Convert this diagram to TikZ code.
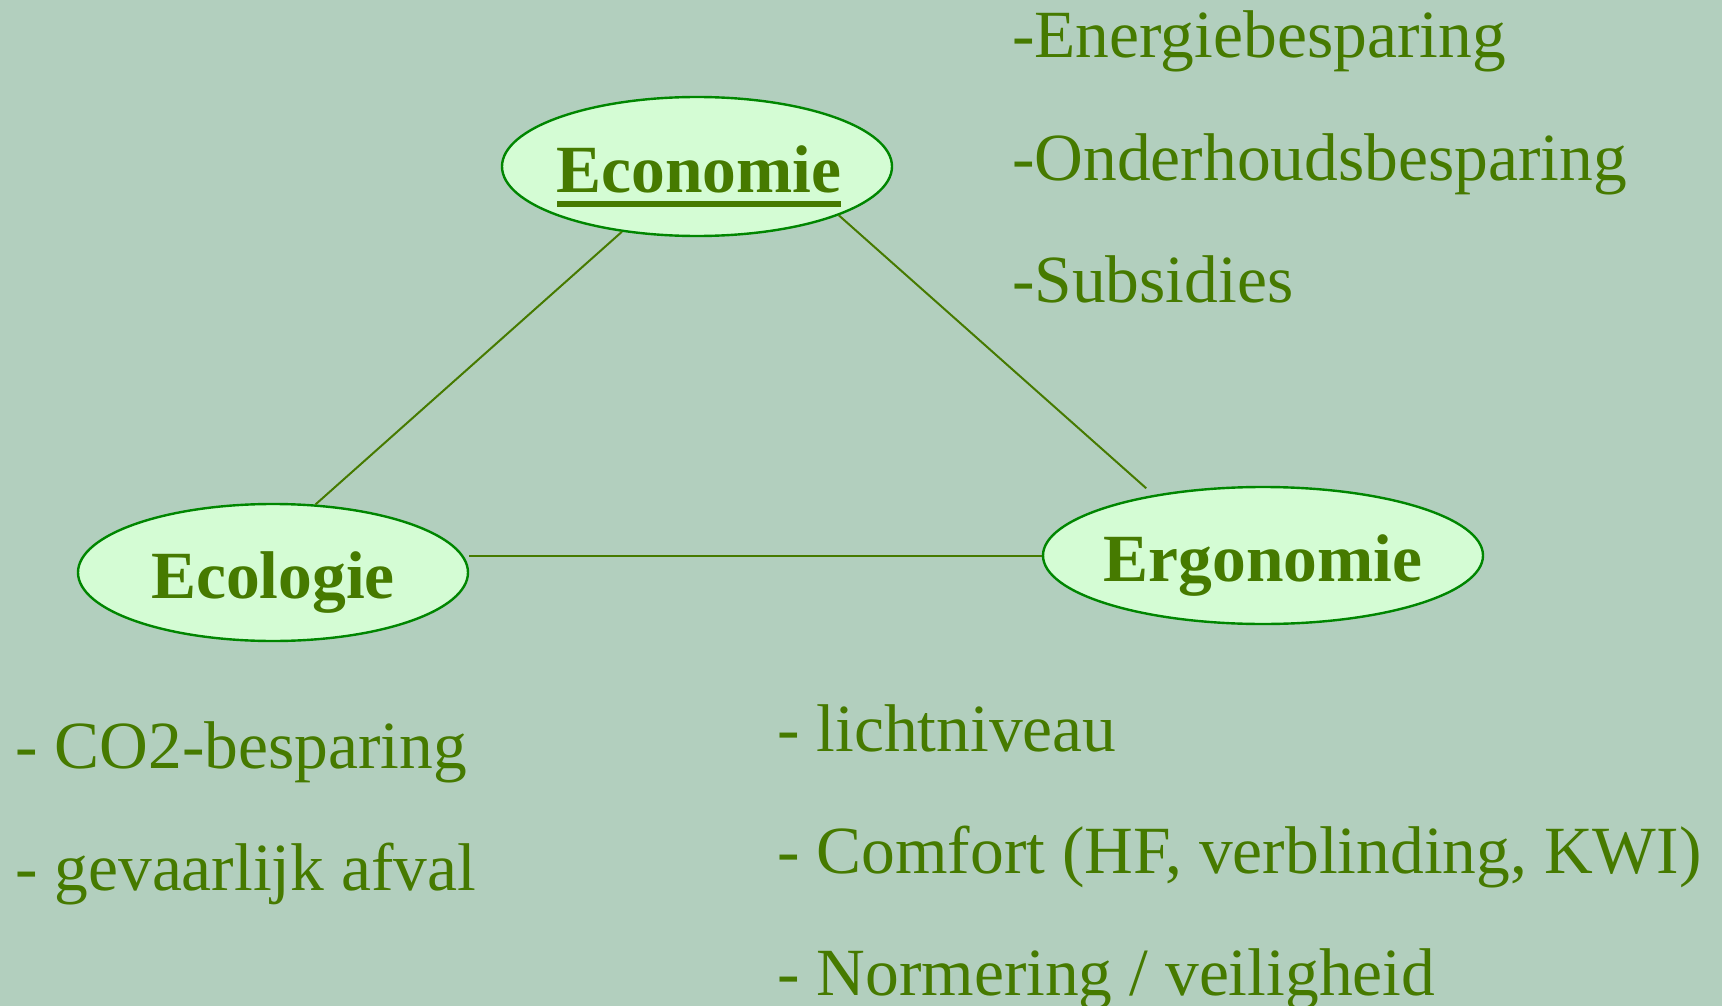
\documentclass[tikz,border=0pt]{standalone}
\usepackage{fontspec}
\setmainfont{Liberation Serif}
\usetikzlibrary{shapes.geometric}
\definecolor{bg}{RGB}{178,207,190}
\definecolor{fillc}{RGB}{212,252,212}
\definecolor{border}{RGB}{0,134,0}
\definecolor{txt}{RGB}{70,122,0}
\newcommand\myul[1]{\setbox0=\hbox{#1}\rlap{\rule[-14.3pt]{\wd0}{5.6pt}}\box0}
\begin{document}
\begin{tikzpicture}[x=1pt,y=-1pt,
  bubble/.style={ellipse, draw=border, fill=fillc, line width=2.4pt, inner sep=0pt, minimum width=#1},
  title/.style={font=\fontsize{67.5}{80}\selectfont\bfseries, text=txt, inner sep=0pt, text height=52pt, text depth=0pt},
  item/.style={font=\fontsize{67.5}{80}\selectfont, text=txt, inner sep=0pt, anchor=base west},
  link/.style={draw=txt, line width=2pt}]
\fill[bg] (0,0) rectangle (1722,1006);
\useasboundingbox (0,0) rectangle (1722,1006);

\node[bubble=390pt, minimum height=139pt] (eco) at (697,166.5) {};
\node[title] (ecoT) at ([xshift=2pt]eco.center) {\myul{Economie}};
\node[bubble=390pt, minimum height=137pt] (ecol) at (273,572.5) {};
\node[title] (ecolT) at (ecol) {Ecologie};
\node[bubble=440pt, minimum height=137pt] (ergo) at (1263,555.5) {};
\node[title] (ergoT) at (ergo) {Ergonomie};

\node[item] (e1) at (1012,58) {-Energiebesparing};
\node[item] (e2) at (1012,180) {-Onderhoudsbesparing};
\node[item] (e3) at (1012,302) {-Subsidies};
\node[item] (c1) at (15,768) {- CO2-besparing};
\node[item] (c2) at (15,890) {- gevaarlijk afval};
\node[item] (g1) at (777,751) {- lichtniveau};
\node[item] (g2) at (777,873) {- Comfort (HF, verblinding, KWI)};
\node[item] (g3) at (777,995) {- Normering / veiligheid};

\draw[link] (eco.221) -- (ecol.58);
\draw[link, shorten >=10pt] (eco.341) -- (ergo.151);
\draw[link] (ecol.east |- ergo.west) -- (ergo.west);
\end{tikzpicture}
\end{document}
